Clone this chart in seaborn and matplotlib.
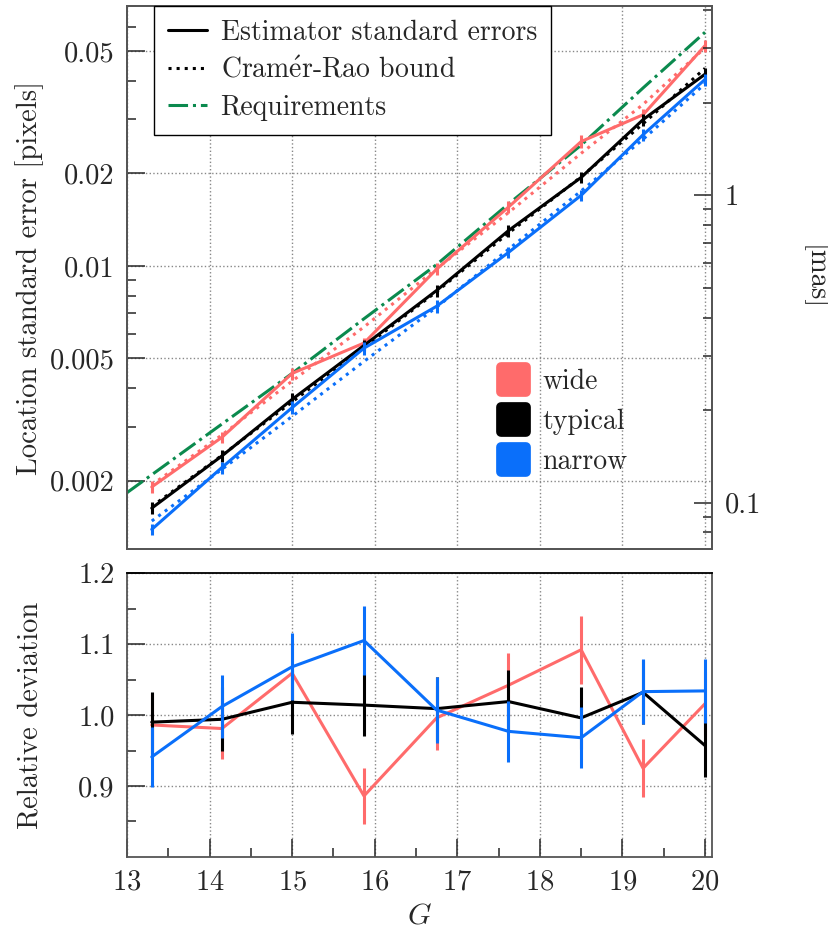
import numpy as np
import pandas as pd
import matplotlib
matplotlib.use("Agg")
import matplotlib.pyplot as plt
import seaborn as sns
from matplotlib.lines import Line2D
from matplotlib.markers import MarkerStyle
from matplotlib.ticker import FixedLocator, FixedFormatter, NullFormatter

# ---------------- data ----------------
G = [13.3, 14.15, 15.0, 15.87, 16.75, 17.62, 18.5, 19.25, 20.0]
psf_types = ["wide", "typical", "narrow"]

# estimator standard errors [pixels]
est_wide = [0.00191, 0.00277, 0.00447, 0.00561, 0.00976, 0.01553, 0.02537, 0.0310, 0.0520]
est_typical = [0.00163, 0.00241, 0.00368, 0.00551, 0.00832, 0.01302, 0.01939, 0.0299, 0.0420]
est_narrow = [0.00139, 0.00221, 0.00346, 0.00540, 0.00739, 0.01106, 0.01696, 0.0267, 0.0404]

# uncertainty of estimator standard errors [pixels]
err_wide = [0.000086, 0.000119, 0.000201, 0.000219, 0.000439, 0.000699, 0.00122, 0.00127, 0.00234]
err_typical = [0.000072, 0.000106, 0.000166, 0.000242, 0.000374, 0.000586, 0.000853, 0.00135, 0.00189]
err_narrow = [0.000058, 0.0000995, 0.000163, 0.000265, 0.000347, 0.000476, 0.000729, 0.00123, 0.00182]

# Cramer-Rao bound [pixels]
crb_wide = [0.00194, 0.00282, 0.00422, 0.00633, 0.00980, 0.01490, 0.02323, 0.0335, 0.0512]
crb_typical = [0.00165, 0.00242, 0.00361, 0.00543, 0.00825, 0.01278, 0.01947, 0.0290, 0.0439]
crb_narrow = [0.00148, 0.00218, 0.00324, 0.00489, 0.00734, 0.01132, 0.01752, 0.0258, 0.0391]

# requirements
req_G = [13.0, 14.15, 15.0, 15.87, 16.75, 17.62, 18.5, 19.25, 20.0]
req_val = [0.00183, 0.00306, 0.00447, 0.00673, 0.0101, 0.0159, 0.0247, 0.0379, 0.0575]

# relative deviation (estimator / CRB)
rel_wide = [0.986, 0.981, 1.059, 0.886, 0.996, 1.042, 1.092, 0.925, 1.016]
rel_typical = [0.990, 0.994, 1.018, 1.014, 1.009, 1.019, 0.996, 1.032, 0.957]
rel_narrow = [0.941, 1.012, 1.068, 1.105, 1.007, 0.977, 0.968, 1.033, 1.034]
relerr_wide = [0.045, 0.043, 0.045, 0.039, 0.045, 0.045, 0.048, 0.041, 0.045]
relerr_typical = [0.043, 0.045, 0.045, 0.044, 0.045, 0.045, 0.044, 0.045, 0.044]
relerr_narrow = [0.042, 0.045, 0.047, 0.049, 0.047, 0.043, 0.043, 0.046, 0.045]

left_ticks = [0.002, 0.005, 0.01, 0.02, 0.05]
left_ticklabels = ["0.002", "0.005", "0.01", "0.02", "0.05"]
right_ticks = [0.1, 1]
right_ticklabels = ["0.1", "1"]
rel_ticks = [0.9, 1.0, 1.1, 1.2]
rel_ticklabels = ["0.9", "1.0", "1.1", "1.2"]
x_ticks = [13, 14, 15, 16, 17, 18, 19, 20]
mas_per_pixel = 58.9

colors = {"wide": "#ff6b6b", "typical": "#000000", "narrow": "#0a6ffa"}
green = "#0b8a4e"

# ---------------- style ----------------
sns.set_style("ticks")
plt.rcParams["font.family"] = ["cmr10", "DejaVu Serif"]
plt.rcParams["mathtext.fontset"] = "cm"
plt.rcParams["axes.formatter.use_mathtext"] = True
FS = 20.6
LFS = 20
plt.rcParams["font.size"] = FS

est = {"wide": est_wide, "typical": est_typical, "narrow": est_narrow}
err = {"wide": err_wide, "typical": err_typical, "narrow": err_narrow}
crb = {"wide": crb_wide, "typical": crb_typical, "narrow": crb_narrow}
rel = {"wide": rel_wide, "typical": rel_typical, "narrow": rel_narrow}
relerr = {"wide": relerr_wide, "typical": relerr_typical, "narrow": relerr_narrow}

rows = []
for t in psf_types:
    for i, g in enumerate(G):
        rows.append(dict(G=g, psf=t, est=est[t][i], err=err[t][i], crb=crb[t][i],
                         rel=rel[t][i], relerr=relerr[t][i]))
df = pd.DataFrame(rows)
df_req = pd.DataFrame({"G": req_G, "req": req_val})

fig = plt.figure(figsize=(8.29, 9.38), dpi=100)
ax1 = fig.add_axes([0.1532, 0.4147, 0.7057, 0.5789])
ax2 = fig.add_axes([0.1532, 0.0864, 0.7057, 0.3026])

LW = 2.2
# ---------------- top panel ----------------
ax1.set_yscale("log")
sns.lineplot(data=df, x="G", y="crb", hue="psf", hue_order=psf_types, palette=colors,
             ax=ax1, linestyle=":", linewidth=LW, legend=False, zorder=2)
sns.lineplot(data=df_req, x="G", y="req", ax=ax1, color=green, linestyle="-.",
             linewidth=LW, legend=False, zorder=2.5)
for t in psf_types:
    sub = df[df.psf == t]
    sns.lineplot(data=sub, x="G", y="est", ax=ax1, color=colors[t], linewidth=LW,
                 legend=False, zorder=3)
    ax1.errorbar(sub.G, sub.est, yerr=sub.err, fmt="none", ecolor=colors[t],
                 elinewidth=LW, capsize=0, zorder=3)

ax1.set_xlim(13, 20.085)
ax1.set_ylim(0.0012, 0.07)
ax1.yaxis.set_major_locator(FixedLocator(left_ticks))
ax1.yaxis.set_major_formatter(FixedFormatter(left_ticklabels))
minor_left = [0.003, 0.004, 0.006, 0.007, 0.008, 0.009, 0.03, 0.04, 0.06, 0.07]
ax1.yaxis.set_minor_locator(FixedLocator(minor_left))
ax1.yaxis.set_minor_formatter(NullFormatter())
ax1.xaxis.set_major_locator(FixedLocator(x_ticks))
ax1.tick_params(axis="x", which="both", bottom=False, labelbottom=False)
ax1.set_xlabel("")
ax1.set_ylabel("Location standard error [pixels]", fontsize=FS)
ax1.yaxis.set_label_coords(-0.142, 0.5)
ax1.grid(True, which="major", linestyle=":", color="#888888", linewidth=1.0)

ax1r = ax1.twinx()
ax1r.set_yscale("log")
ax1r.set_ylim(0.0012 * mas_per_pixel, 0.07 * mas_per_pixel)
ax1r.yaxis.set_major_locator(FixedLocator(right_ticks))
ax1r.yaxis.set_major_formatter(FixedFormatter(right_ticklabels))
ax1r.yaxis.set_minor_locator(FixedLocator([0.08, 0.09, 0.2, 0.3, 0.4, 0.5, 0.6, 0.7,
                                           0.8, 0.9, 2, 3, 4]))
ax1r.yaxis.set_minor_formatter(NullFormatter())
ax1r.text(1.176, 0.5, "[mas]", transform=ax1r.transAxes, rotation=270,
          ha="center", va="center", fontsize=FS)

# legends
h1 = [Line2D([], [], color="black", lw=LW, ls="-"),
      Line2D([], [], color="black", lw=LW, ls=":"),
      Line2D([], [], color=green, lw=LW, ls="-.")]
leg1 = ax1r.legend(h1, ["Estimator standard errors", r"Cram$\acute{\rm e}$r-Rao bound",
                        "Requirements"],
                   loc="upper left", bbox_to_anchor=(0.046, 1.0), borderaxespad=0,
                   fontsize=LFS, frameon=True, fancybox=False, edgecolor="black",
                   framealpha=1, handlelength=1.4, handletextpad=0.5,
                   labelspacing=0.38, borderpad=0.5)
leg1.get_frame().set_linewidth(1.0)
h2 = [Line2D([], [], marker=MarkerStyle("s", joinstyle="round"), ls="none",
             markersize=18, markeredgewidth=7, color=colors[t]) for t in psf_types]
leg2 = ax1.legend(h2, psf_types, loc="upper left", bbox_to_anchor=(0.632, 0.333),
                  borderaxespad=0, borderpad=0, frameon=False, fontsize=LFS,
                  handlelength=1.2, handletextpad=0.45, labelspacing=0.5)

# ---------------- bottom panel ----------------
for t in psf_types:
    sub = df[df.psf == t]
    sns.lineplot(data=sub, x="G", y="rel", ax=ax2, color=colors[t], linewidth=LW,
                 legend=False, zorder=3)
    ax2.errorbar(sub.G, sub.rel, yerr=sub.relerr, fmt="none", ecolor=colors[t],
                 elinewidth=LW, capsize=0, zorder=3)
ax2.set_xlim(13, 20.085)
ax2.set_ylim(0.8, 1.2)
ax2.xaxis.set_major_locator(FixedLocator(x_ticks))
ax2.xaxis.set_minor_locator(FixedLocator([13.5, 14.5, 15.5, 16.5, 17.5, 18.5, 19.5]))
ax2.yaxis.set_major_locator(FixedLocator(rel_ticks))
ax2.yaxis.set_major_formatter(FixedFormatter(rel_ticklabels))
ax2.yaxis.set_minor_locator(FixedLocator([0.85, 0.95, 1.05, 1.15]))
ax2.set_xlabel(r"$G$", fontsize=FS + 1)
ax2.xaxis.set_label_coords(0.5, -0.158)
ax2.set_ylabel("Relative deviation", fontsize=FS)
ax2.yaxis.set_label_coords(-0.142, 0.5)
ax2.grid(True, which="major", linestyle=":", color="#888888", linewidth=1.0)

for ax in (ax1, ax1r, ax2):
    ax.tick_params(which="major", direction="in", length=13, width=1.1, labelsize=FS,
                   pad=9)
    ax.tick_params(which="minor", direction="in", length=6.5, width=1.1)
    for s in ax.spines.values():
        s.set_color("#555555")
        s.set_linewidth(1.3)
ax2.spines["top"].set_color("black")
ax1.tick_params(axis="y", which="both", right=False)
ax1r.tick_params(axis="y", which="both", left=False)
ax2.tick_params(axis="x", which="both", top=False)
ax2.tick_params(axis="y", which="both", right=False)

fig.savefig("out.png", dpi=100)
